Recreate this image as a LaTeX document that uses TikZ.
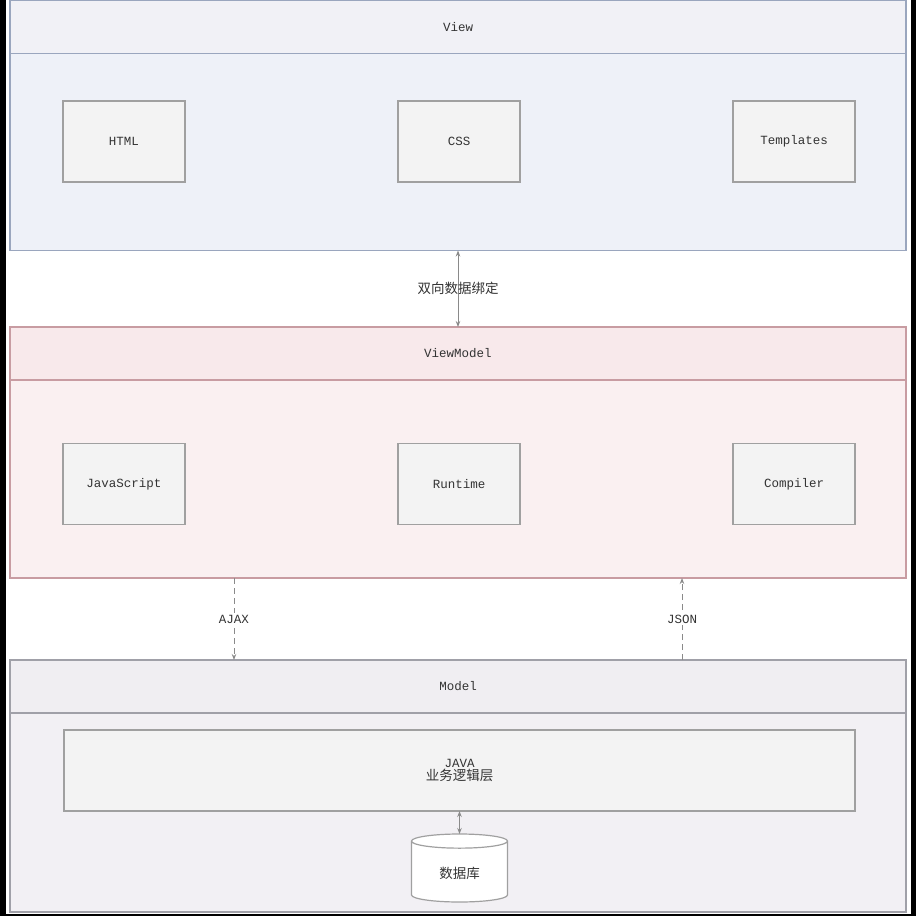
\documentclass[tikz,border=0pt]{standalone}
\usepackage{fontspec}
\setmainfont{Liberation Mono}
\newfontfamily\cjk{Noto Sans CJK SC}
\usetikzlibrary{positioning,shapes.geometric,arrows.meta}

\definecolor{textgray}{HTML}{333333}
\definecolor{viewline}{HTML}{9AA6BE}
\definecolor{viewhead}{HTML}{F1F1F6}
\definecolor{viewfill}{HTML}{EEF1F8}
\definecolor{vmline}{HTML}{C89CA2}
\definecolor{vmhead}{HTML}{F8E9EB}
\definecolor{vmfill}{HTML}{FAF0F1}
\definecolor{modelline}{HTML}{A0A0A8}
\definecolor{modelhead}{HTML}{F0EEF2}
\definecolor{modelfill}{HTML}{F2F0F4}
\definecolor{boxline}{HTML}{A0A0A0}
\definecolor{boxfill}{HTML}{F3F3F3}
\definecolor{linkgray}{HTML}{8A8A8A}

\tikzset{
  layerhead/.style={rectangle, draw, line width=1.2pt, outer sep=0pt, minimum width=896pt, minimum height=53pt, font=\fontsize{12.5}{14}\selectfont, text=textgray},
  layerbody/.style={rectangle, draw, line width=1.2pt, outer sep=0pt, minimum width=896pt},
  part/.style={rectangle, draw=boxline, fill=boxfill, line width=1.2pt, outer sep=0pt, minimum width=122pt, minimum height=81pt, font=\fontsize{12.5}{14}\selectfont, text=textgray},
  link/.style={draw=linkgray, line width=1pt, >={Stealth[length=6pt,width=4.5pt]}},
  tag/.style={font=\fontsize{12.5}{14}\selectfont, text=textgray, inner sep=2pt},
}

\begin{document}
\begin{tikzpicture}[x=1pt, y=-1pt]
    \useasboundingbox (0,0) rectangle (916,916);
    \fill[black] (0,0) rectangle (916,916);
    \fill[white] (6,0) rectangle (911,914);

    % View
    \node[layerhead, draw=viewline, fill=viewhead] (viewtop) at (458,27) {View};
    \node[layerbody, draw=viewline, fill=viewfill, minimum height=197pt, anchor=north] (view) at (viewtop.south) {};
    \node[part] (html) at (124,141.5) {HTML};
    \node[part] (css) at (459,141.5) {CSS};
    \node[part] (tpl) at (794,141.5) {Templates};

    % ViewModel
    \node[layerhead, draw=vmline, fill=vmhead] (vmtop) at (458,353.5) {ViewModel};
    \node[layerbody, draw=vmline, fill=vmfill, minimum height=198pt, anchor=north] (vm) at (vmtop.south) {};
    \node[part] (js) at (124,484) {JavaScript};
    \node[part] (runtime) at (459,484) {Runtime};
    \node[part] (compiler) at (794,484) {Compiler};

    % Model
    \node[layerhead, draw=modelline, fill=modelhead] (modeltop) at (458,686.5) {Model};
    \node[layerbody, draw=modelline, fill=modelfill, minimum height=199pt, anchor=north] (model) at (modeltop.south) {};
    \node[part, minimum width=791pt, align=center] (java) at (459.5,770.5) {JAVA\\[-1pt]{\cjk\fontsize{13.5}{16}\selectfont 业务逻辑层}};
    \node[cylinder, shape border rotate=90, aspect=0.3, draw=boxline, fill=white, line width=1.2pt, outer sep=0pt, minimum width=96pt, minimum height=68pt, text=textgray, font=\cjk\fontsize{13.5}{16}\selectfont, below=23pt of java] (db) {数据库};

    % links
    \draw[link, <->] (view.south) -- (vmtop.north) node[midway, tag, font=\cjk\fontsize{13.5}{16}\selectfont] {双向数据绑定};
    \path (vm.south west) -- (vm.south east) coordinate[pos=.25] (ajaxtop) coordinate[pos=.75] (jsontop);
    \draw[link, dashed, dash pattern=on 6pt off 4pt, ->] (ajaxtop) -- (ajaxtop |- modeltop.north) node[midway, tag, fill=white] {AJAX};
    \draw[link, dashed, dash pattern=on 6pt off 4pt, ->] (jsontop |- modeltop.north) -- (jsontop) node[midway, tag, fill=white] {JSON};
    \draw[link, <->] (java.south -| db.north) -- (db.north);
\end{tikzpicture}
\end{document}
